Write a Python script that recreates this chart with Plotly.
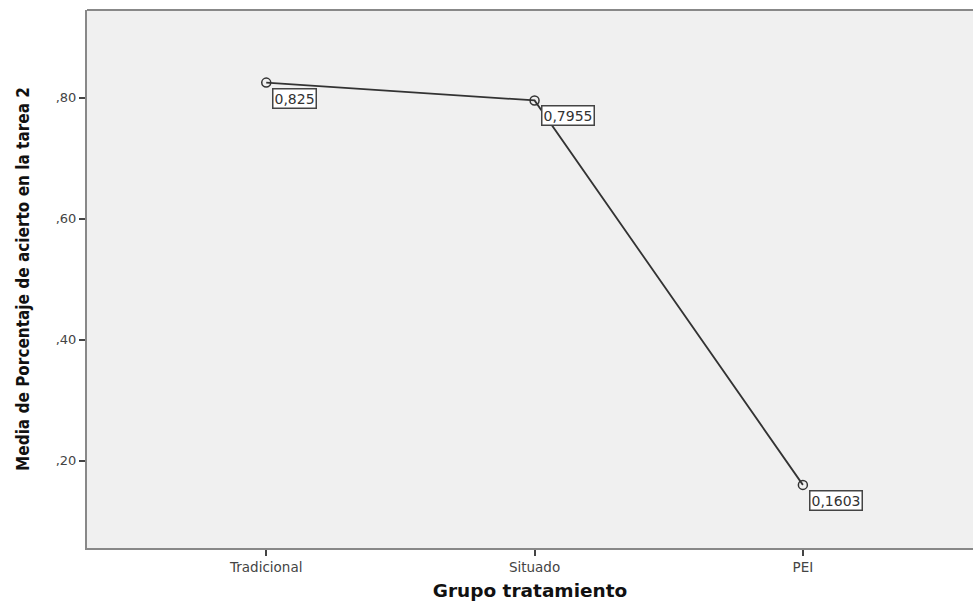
import plotly.graph_objects as go

categories = ["Tradicional", "Situado", "PEI"]
values = [0.825, 0.7955, 0.1603]
labels = ["0,825", "0,7955", "0,1603"]
ytick_vals = [0.2, 0.4, 0.6, 0.8]
ytick_text = [",20", ",40", ",60", ",80"]

fig = go.Figure()
fig.add_trace(go.Scatter(
    x=categories, y=values, mode="lines+markers",
    line=dict(color="#333333", width=1.8),
    marker=dict(symbol="circle-open", size=9, color="#333333", line=dict(width=1.5)),
    showlegend=False, hoverinfo="skip"
))
for c, v, t in zip(categories, values, labels):
    fig.add_annotation(x=c, y=v, text=t, showarrow=False,
                       xanchor="left", yanchor="top", xshift=6, yshift=-5,
                       font=dict(family="DejaVu Sans", size=14, color="#333333"),
                       bgcolor="white", bordercolor="#444444", borderwidth=1.5, borderpad=1)

# top frame line of the plot area
fig.add_shape(type="line", xref="paper", yref="paper", x0=0, x1=1.02, y0=1, y1=1,
              line=dict(color="#888888", width=2))

fig.update_layout(
    width=973, height=602,
    margin=dict(l=87, r=0, t=10, b=54),
    paper_bgcolor="white", plot_bgcolor="#f0f0f0",
    font=dict(family="DejaVu Sans", color="#333333"),
    xaxis=dict(range=[-0.668, 2.634], showline=True, linecolor="#888888", linewidth=2,
               mirror=False, ticks="outside", ticklen=6, tickcolor="#444444", tickwidth=1.5,
               showgrid=False, zeroline=False, automargin=False,
               tickfont=dict(family="DejaVu Sans", size=13.5, color="#444444"),
               title=dict(text="<b>Grupo tratamiento</b>", standoff=10,
                          font=dict(family="DejaVu Sans", size=18.5, color="#111111"))),
    yaxis=dict(range=[0.056, 0.945], showline=True, linecolor="#888888", linewidth=2,
               mirror=False, ticks="outside", ticklen=6, tickcolor="#444444", tickwidth=1.5,
               tickvals=ytick_vals, ticktext=ytick_text, automargin=False,
               showgrid=False, zeroline=False,
               tickfont=dict(family="DejaVu Sans", size=13, color="#444444"),
               title=dict(text="<b>Media de Porcentaje de acierto en la tarea 2</b>", standoff=22,
                          font=dict(family="DejaVu Sans Condensed, DejaVu Sans", size=17, color="#111111"))),
)
fig.write_html("out.html", config={"displayModeBar": False},
               post_script="document.body.style.margin='0';document.body.style.overflow='hidden';")
